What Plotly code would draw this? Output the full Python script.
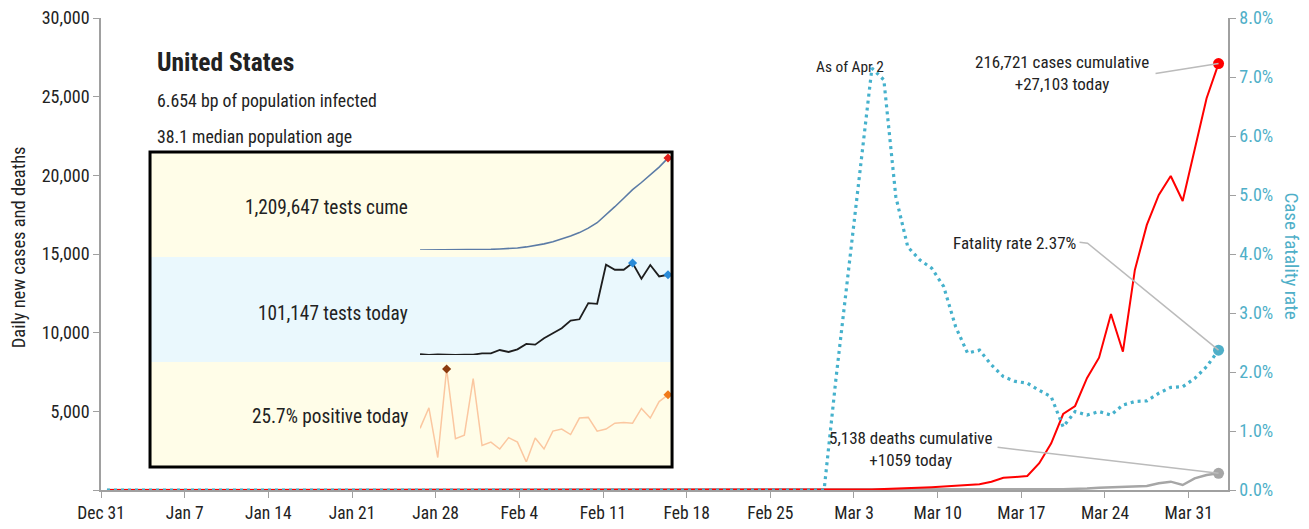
"""US COVID-19 daily cases / deaths / fatality rate, with a testing inset."""
import pandas as pd
import plotly.graph_objects as go

FONT = "Liberation Sans Narrow, Roboto Condensed, DejaVu Sans Condensed, Arial Narrow, sans-serif"
INK = "#222222"
AXIS = "#A0A0A0"
RED = "#FF0000"
GREY = "#A6A6A6"
TEAL = "#45B1CC"
TEAL_TXT = "#4FAFC8"

# ── Main series, Dec 31 2019 → Apr 2 2020 (one value per day) ────────────────
dates = pd.date_range("2019-12-31", "2020-04-02", freq="D") + pd.Timedelta(hours=12)

new_cases = [0] * 61 + [
    10, 20, 25, 30, 60, 80, 110, 130, 180, 220,          # Mar 1-10
    260, 300, 360, 530, 780, 830, 890, 1700, 2970, 4830,  # Mar 11-20
    5340, 7120, 8410, 11190, 8790, 13990, 16850, 18750, 19960, 18370,  # Mar 21-30
    21610, 24900, 27103,                                  # Mar 31 - Apr 2
]
new_deaths = [0] * 61 + [
    1, 5, 1, 4, 1, 2, 3, 4, 4, 5,
    8, 7, 10, 10, 13, 18, 25, 30, 45, 55,
    60, 100, 140, 180, 210, 250, 260, 425, 530, 320,
    740, 950, 1059,
]
cfr_pct = [0] * 61 + [
    1.9, 3.6, 5.4, 7.15, 6.95, 4.97, 4.12, 3.90, 3.76, 3.45,
    2.77, 2.32, 2.37, 2.12, 1.92, 1.84, 1.81, 1.69, 1.58, 1.07,
    1.33, 1.27, 1.33, 1.27, 1.44, 1.50, 1.51, 1.64, 1.74, 1.75,
    1.89, 2.09, 2.37,
]

# ── Testing sparklines (last 29 days) ─────────────────────────────────────────
spark_dates = pd.date_range("2020-03-05", "2020-04-02", freq="D")
tests_cume = [
    4900, 4900, 4900, 4900, 9400, 9400, 9400, 13900, 13900, 18300,
    22800, 31700, 45100, 63000, 85300, 112000, 147700, 187900, 232500, 290500,
    361900, 464500, 571600, 683100, 795000, 888600, 986800, 1089400, 1209647,
]
tests_today = [
    4200, 3000, 3800, 3000, 3000, 3400, 3400, 5000, 5000, 9100,
    6700, 9900, 16500, 15700, 23400, 29600, 35700, 45100, 46700, 66400,
    65600, 113400, 107300, 107300, 115500, 96200, 113000, 99100, 101147,
]
positive_pct = [
    15.9, 21.9, 7.4, 33.2, 12.9, 13.9, 30.4, 10.9, 11.9, 9.9,
    13.2, 11.9, 6.1, 13.1, 9.9, 15.1, 15.7, 14.1, 18.9, 19.1,
    15.1, 15.7, 17.4, 17.6, 17.4, 21.7, 18.9, 23.7, 25.7,
]

fig = go.Figure()

# ── Main chart traces ────────────────────────────────────────────────────────
fig.add_trace(go.Scatter(x=dates, y=new_deaths, mode="lines", name="Deaths",
                         line=dict(color=GREY, width=2.5)))
fig.add_trace(go.Scatter(x=dates, y=new_cases, mode="lines", name="Cases",
                         line=dict(color=RED, width=2)))
fig.add_trace(go.Scatter(x=[dates[-1]], y=[new_deaths[-1]], mode="markers",
                         marker=dict(color=GREY, size=11)))
fig.add_trace(go.Scatter(x=[dates[-1]], y=[new_cases[-1]], mode="markers",
                         marker=dict(color=RED, size=11)))
fig.add_trace(go.Scatter(x=dates, y=cfr_pct, mode="lines", yaxis="y2", name="CFR",
                         line=dict(color=TEAL, width=3.2, dash="3px,4px")))
fig.add_trace(go.Scatter(x=[dates[-1]], y=[cfr_pct[-1]], mode="markers", yaxis="y2",
                         marker=dict(color=TEAL_TXT, size=11)))


# ── Sparklines ───────────────────────────────────────────────────────────────
def spark(values, axis_n, color, width, mark_idx, mark_colors):
    xa, ya = f"x{axis_n}", f"y{axis_n + 1}"
    fig.add_trace(go.Scatter(x=spark_dates, y=values, mode="lines", xaxis=xa, yaxis=ya,
                             line=dict(color=color, width=width)))
    fig.add_trace(go.Scatter(x=[spark_dates[i] for i in mark_idx],
                             y=[values[i] for i in mark_idx], mode="markers",
                             xaxis=xa, yaxis=ya, cliponaxis=False,
                             marker=dict(symbol="diamond", size=7, color=mark_colors)))


spark(tests_cume, 2, "#5B7BA6", 1.6, [len(tests_cume) - 1], ["#E0201B"])
spark(tests_today, 3, "#1E1E1E", 1.8,
      [tests_today.index(max(tests_today)), len(tests_today) - 1], ["#2A8BD8", "#2A8BD8"])
spark(positive_pct, 4, "#FBC7A0", 1.5,
      [positive_pct.index(max(positive_pct)), len(positive_pct) - 1], ["#8B3A0E", "#F07A1A"])

hidden = dict(visible=False, fixedrange=True)
spark_x = dict(domain=[0.2831, 0.5031], range=[spark_dates[0], spark_dates[-1]], **hidden)

# ── Inset panels and leader lines ────────────────────────────────────────────
shapes = [
    dict(type="rect", xref="paper", yref="paper", x0=0.0435, x1=0.5067, y0=0.4936, y1=0.7161,
         fillcolor="#FFFDE8", line_width=0, layer="below"),
    dict(type="rect", xref="paper", yref="paper", x0=0.0435, x1=0.5067, y0=0.2712, y1=0.4936,
         fillcolor="#EAF8FD", line_width=0, layer="below"),
    dict(type="rect", xref="paper", yref="paper", x0=0.0435, x1=0.5067, y0=0.0487, y1=0.2712,
         fillcolor="#FFFDE8", line_width=0, layer="below"),
    dict(type="rect", xref="paper", yref="paper", x0=0.0435, x1=0.5067, y0=0.0487, y1=0.7161,
         fillcolor="rgba(0,0,0,0)", line=dict(color="black", width=3)),
    dict(type="path", xref="x", yref="y", xsizemode="pixel", ysizemode="pixel",
         xanchor=dates[-1], yanchor=new_cases[-1], path="M-63,-10 L0,0",
         line=dict(color="#BBBBBB", width=1.5)),
    dict(type="path", xref="x", yref="y2", xsizemode="pixel", ysizemode="pixel",
         xanchor=dates[-1], yanchor=cfr_pct[-1], path="M-139,108 L-131,107 L0,0",
         line=dict(color="#BBBBBB", width=1.5)),
    dict(type="path", xref="x", yref="y", xsizemode="pixel", ysizemode="pixel",
         xanchor=dates[-1], yanchor=new_deaths[-1], path="M-221,26 L0,0",
         line=dict(color="#BBBBBB", width=1.5)),
]


def note(text, x, y, size=17, xanchor="center", color=INK, angle=0):
    return dict(text=text, x=x, y=y, xref="paper", yref="paper", showarrow=False,
                xanchor=xanchor, yanchor="middle", textangle=angle,
                font=dict(family=FONT, size=size, color=color))


annotations = [
    note("<b>United States</b>", 0.0479, 0.9068, size=25.5, xanchor="left"),
    note("6.654 bp of population infected", 0.0479, 0.8242, size=17.8, xanchor="left"),
    note("38.1 median population age", 0.0479, 0.7479, size=17.8, xanchor="left"),
    note("As of Apr 2", 0.6646, 0.8962, size=15.4),
    note("216,721 cases cumulative<br>+27,103 today", 0.8527, 0.8835),
    note("Fatality rate 2.37%", 0.811, 0.5233),
    note("5,138 deaths cumulative<br>+1059 today", 0.7187, 0.0869),
    note("1,209,647 tests cume", 0.2742, 0.5975, size=19.3, xanchor="right"),
    note("101,147 tests today", 0.2742, 0.375, size=19.3, xanchor="right"),
    note("25.7% positive today", 0.2742, 0.1547, size=19.3, xanchor="right"),
    note("Daily new cases and deaths", -0.0725, 0.515, size=18.5, angle=-90),
    note("Case fatality rate", 1.0568, 0.497, size=19, color=TEAL_TXT, angle=90),
]

left_ticks = list(range(0, 30001, 5000))
axis_style = dict(ticks="outside", ticklen=6, tickcolor=AXIS, showline=True,
                  linecolor=AXIS, linewidth=1.5, showgrid=False, zeroline=False,
                  ticklabeloverflow="allow", automargin=False)

# The page body adds an 8px margin, so the figure is 8px smaller than the window.
fig.update_layout(
    width=1301, height=521,
    margin=dict(l=93, r=81, t=10, b=39, autoexpand=False),
    paper_bgcolor="white", plot_bgcolor="rgba(0,0,0,0)",
    font=dict(family=FONT, size=18, color=INK),
    showlegend=False,
    shapes=shapes, annotations=annotations,
    xaxis=dict(
        range=["2019-12-31", "2020-04-03 07:00"],
        tickvals=pd.date_range("2019-12-31", "2020-03-31", freq="7D"),
        tickformat="%b %-d", tickfont=dict(size=17.5, color=INK), **axis_style,
    ),
    yaxis=dict(
        range=[0, 30000], tickvals=left_ticks,
        ticktext=["" if v == 0 else f"{v:,}" for v in left_ticks],
        tickfont=dict(size=18, color=INK), **axis_style,
    ),
    yaxis2=dict(
        overlaying="y", side="right", range=[0, 8], dtick=1,
        tickformat=".1f", ticksuffix="%",
        tickfont=dict(size=18, color=TEAL_TXT), **axis_style,
    ),
    xaxis2=dict(anchor="y3", **spark_x),
    xaxis3=dict(anchor="y4", **spark_x),
    xaxis4=dict(anchor="y5", **spark_x),
    yaxis3=dict(domain=[0.5085, 0.7034], anchor="x2",
                range=[min(tests_cume), max(tests_cume)], **hidden),
    yaxis4=dict(domain=[0.2860, 0.4809], anchor="x3",
                range=[min(tests_today), max(tests_today)], **hidden),
    yaxis5=dict(domain=[0.0593, 0.2564], anchor="x4",
                range=[min(positive_pct), max(positive_pct)], **hidden),
)

fig.write_html("out.html")
